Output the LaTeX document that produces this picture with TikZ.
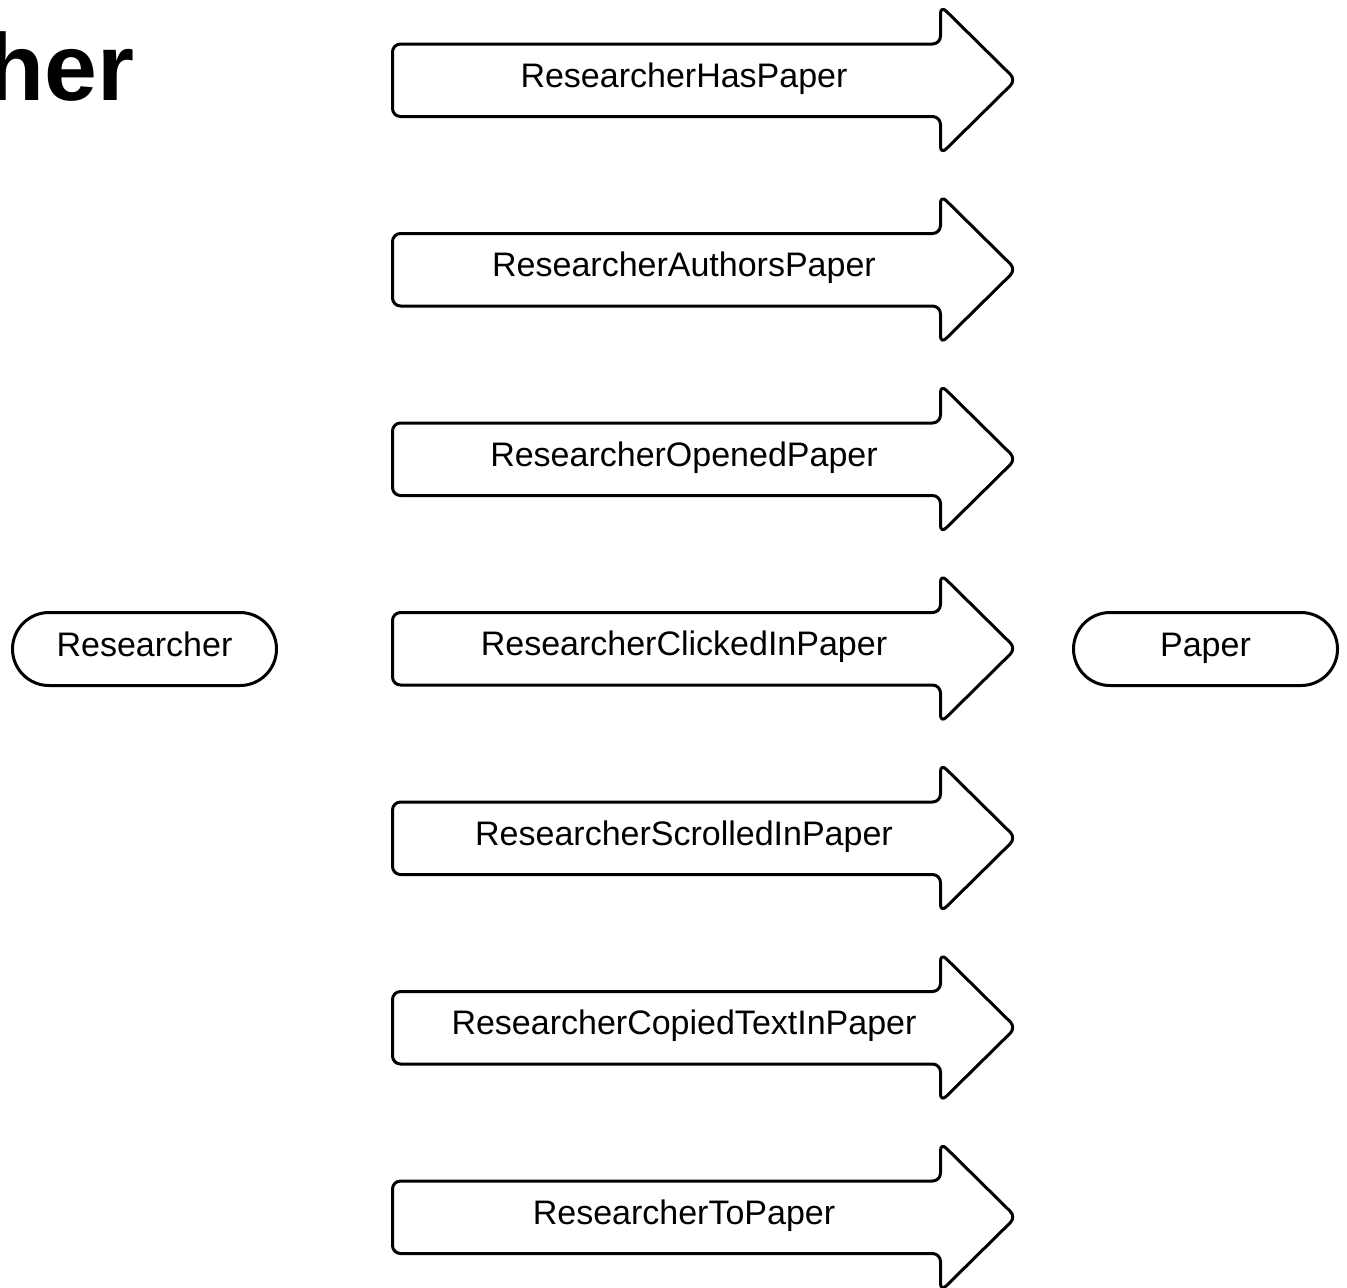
\documentclass[tikz,border=0pt]{standalone}
\usepackage{fontspec}
\setmainfont{Liberation Sans}
\usetikzlibrary{shapes.misc, positioning}

\tikzset{
  entity/.style={rounded rectangle, draw, line width=1.5pt, minimum width=132pt,
    minimum height=36.5pt, inner sep=0pt, font=\fontsize{17}{20}\selectfont,
    text height=12.2pt, text depth=5.2pt},
  rellabel/.style={inner sep=0pt, font=\fontsize{17}{20}\selectfont,
    text height=12.2pt, text depth=5.2pt},
  relshape/.style={draw, line width=1.5pt, rounded corners=4pt, line join=round}
}

\begin{document}
\begin{tikzpicture}[x=0.5pt,y=-0.5pt]
      \useasboundingbox (0,0) rectangle (1347,1287);

      \node[anchor=base east, inner sep=0pt, font=\fontsize{47.5}{50}\selectfont\bfseries] (title) at (135,100) {her};

      \node[entity] (researcher) at (144.5,649) {Researcher};
      \node[entity] (paper) [right=397pt of researcher] {Paper};

      \foreach \name/\txt [count=\i] in {hasPaper/ResearcherHasPaper,
            authorsPaper/ResearcherAuthorsPaper, openedPaper/ResearcherOpenedPaper,
            clickedInPaper/ResearcherClickedInPaper, scrolledInPaper/ResearcherScrolledInPaper,
            copiedTextInPaper/ResearcherCopiedTextInPaper, toPaper/ResearcherToPaper} {
        \pgfmathsetmacro\y{80+189.5*(\i-1)}
        \draw[relshape] (392.5,\y-36) -- (940.5,\y-36) -- (940.5,\y-74.5) -- (1016,\y)
              -- (940.5,\y+74.5) -- (940.5,\y+36.5) -- (392.5,\y+36.5) -- cycle;
        \node[rellabel] (\name) at (684,\y) {\txt};
      }
    \end{tikzpicture}
\end{document}
